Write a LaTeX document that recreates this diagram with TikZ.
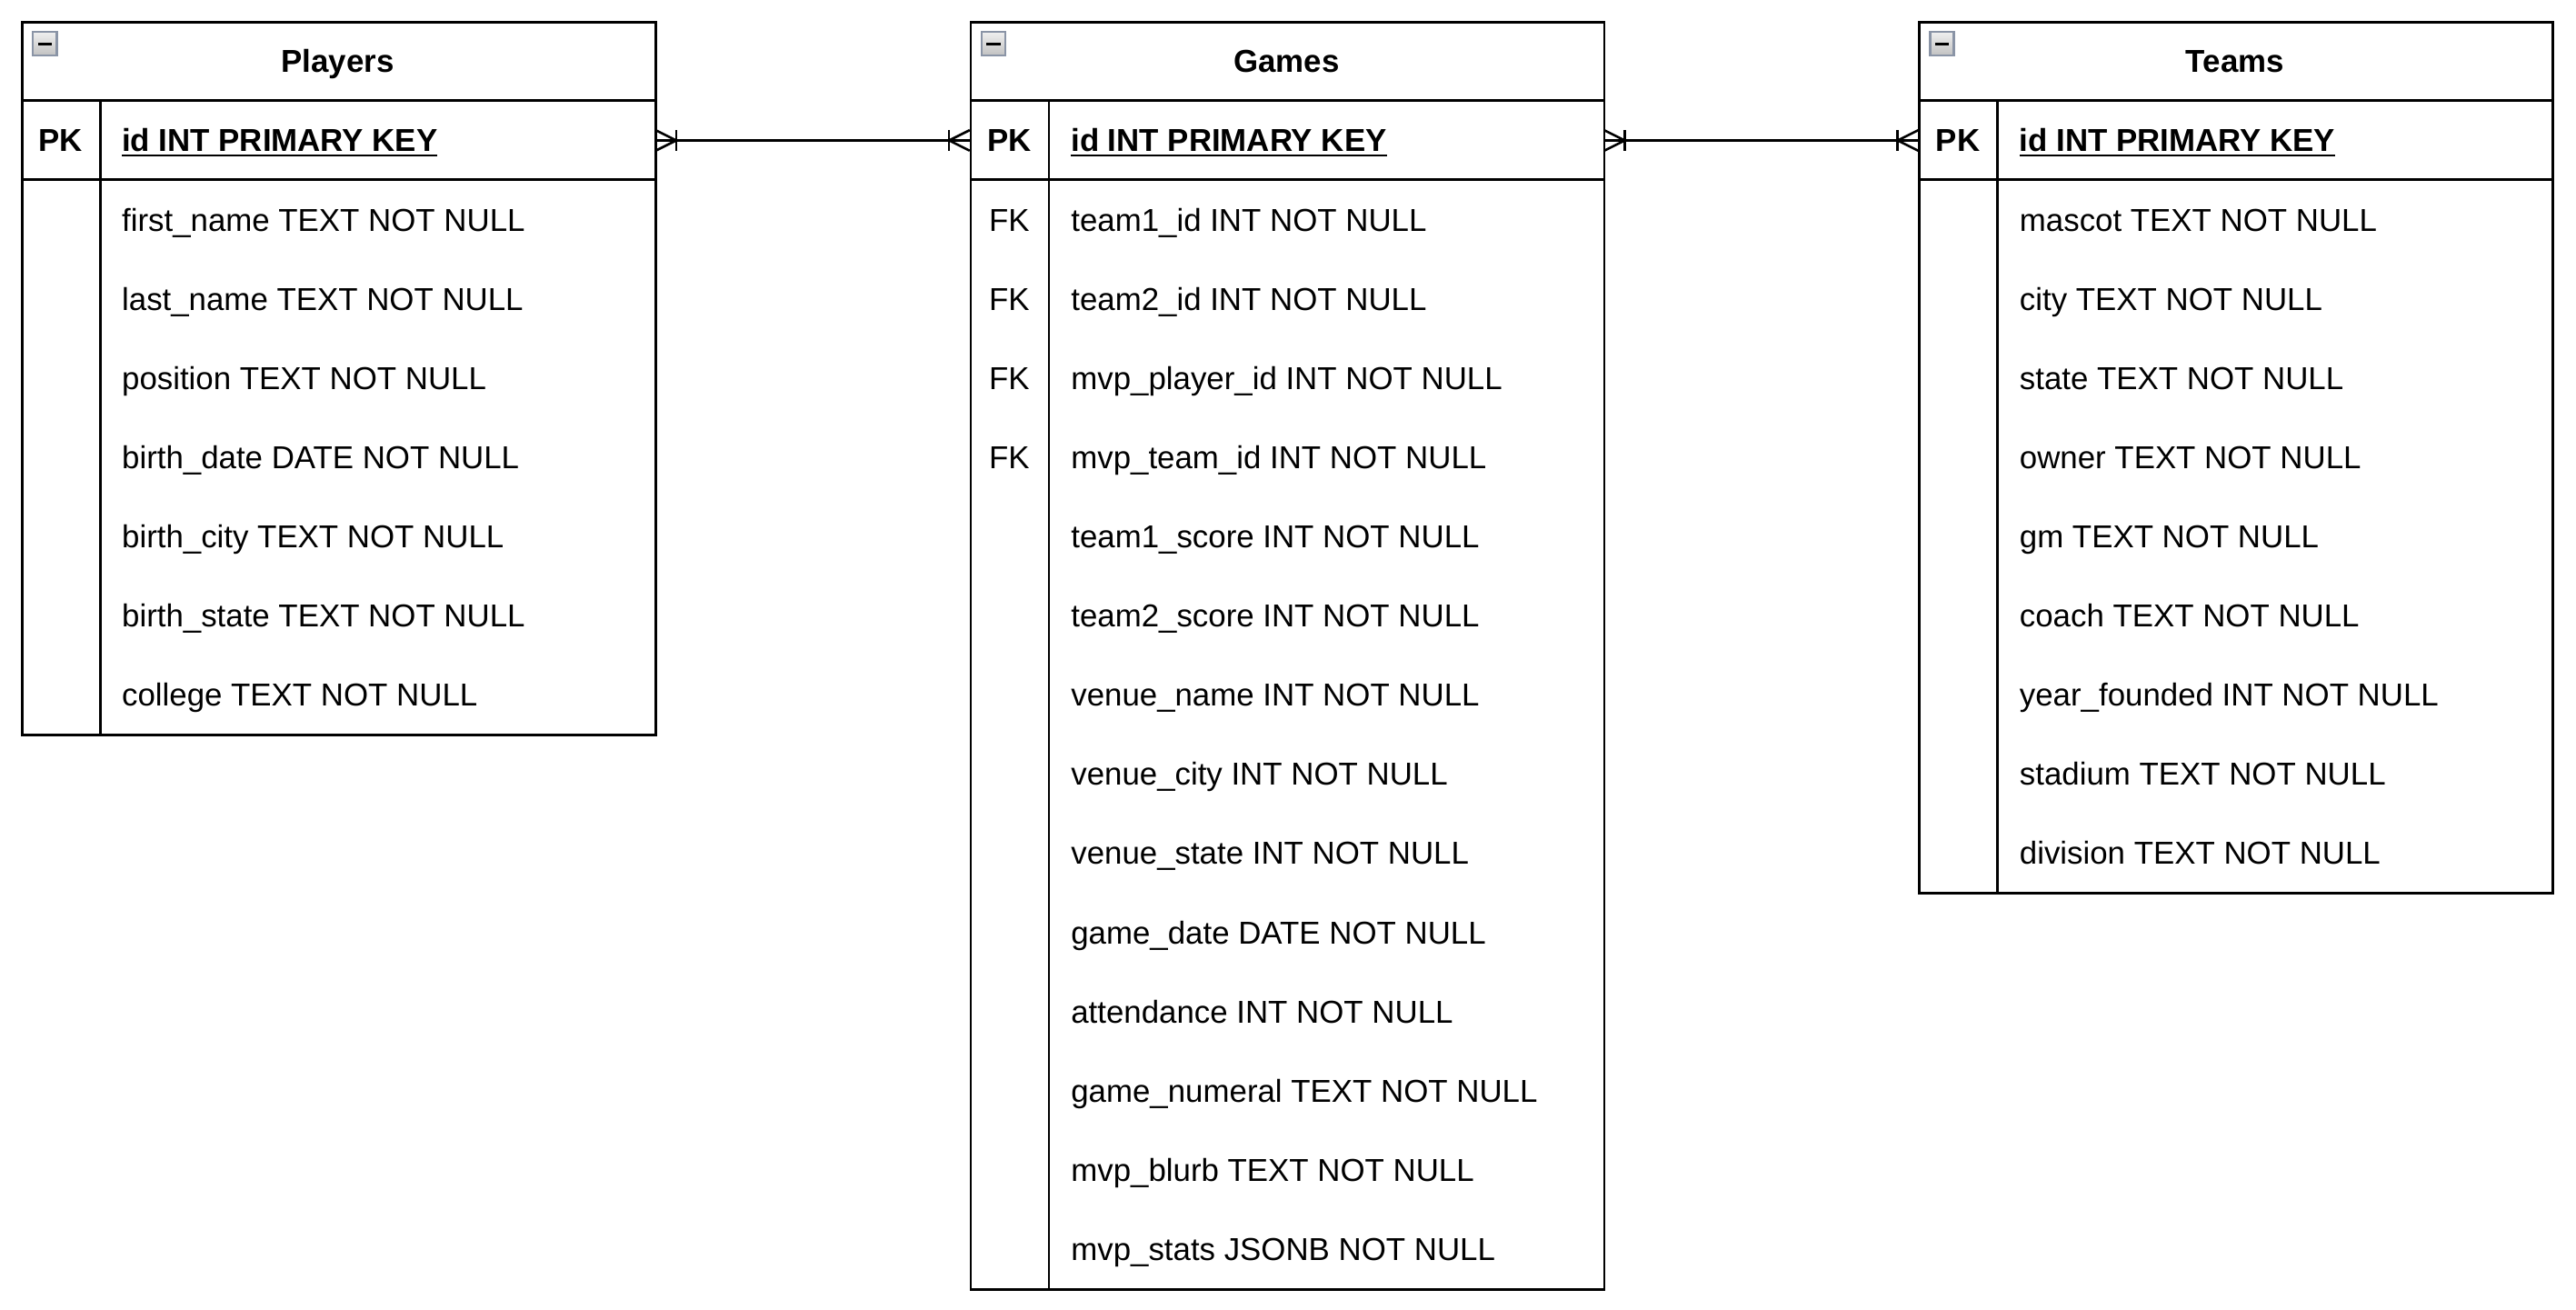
\documentclass[tikz,border=0pt]{standalone}
\usepackage{fontspec}
\setmainfont{Liberation Sans}
\definecolor{iconborder}{HTML}{8A94A6}
\newcommand\myul[1]{\setbox0\hbox{#1}\rlap{\rule[-1.9pt]{\wd0}{0.9pt}}\box0}
\tikzset{
  tblbox/.style={draw=black, line width=0.9pt, fill=white, rectangle, inner sep=0pt, minimum width=240pt, anchor=north west},
  pkrow/.style={rectangle, inner sep=0pt, minimum width=240pt, minimum height=30pt, anchor=north west},
  sepline/.style={line width=0.9pt},
  fld/.style={anchor=base west, inner sep=0pt, font=\fontsize{12}{14}\selectfont},
  keyb/.style={anchor=base, inner sep=0pt, font=\fontsize{12}{14}\selectfont\bfseries},
  keyn/.style={anchor=base, inner sep=0pt, font=\fontsize{12}{14}\selectfont},
  ttl/.style={anchor=base, inner sep=0pt, font=\fontsize{12}{14}\selectfont\bfseries},
  iconbox/.style={draw=iconborder, line width=0.8pt, top color=white!94!black, bottom color=white!76!black},
  conn/.style={line width=0.9pt},
  crowfoot/.pic={\draw[conn] (0,-3.9) -- (7.8,0) -- (0,3.9); \draw[conn] (7.8,-3.9) -- (7.8,3.9);}
}
\begin{document}
\begin{tikzpicture}[x=1pt,y=-1pt]
\fill[white] (0,0) rectangle (976,496);
\useasboundingbox (0,0) rectangle (976,496);

% ---------------- Players ----------------
\node[tblbox, minimum height=270pt] (players) at (8,8) {};
\node[pkrow] (playersPK) at (8,38) {};
\draw[sepline] (8,38) -- (248,38);
\draw[sepline] (8,68) -- (248,68);
\draw[sepline] (38,38) -- (38,278);
\draw[iconbox] (12.5,12) rectangle (21.5,21);
\fill[black] (14.3,16.1) rectangle (19.7,17.3);
\node[ttl] (playersT) at (128,27.5) {Players};
\node[keyb] (playersK) at (23,57.5) {PK};
\node[fld] (playersId) at (46,57.5) {\bfseries\myul{id INT PRIMARY KEY}};
\foreach [count=\i] \t in {first\_name TEXT NOT NULL, last\_name TEXT NOT NULL, position TEXT NOT NULL, birth\_date DATE NOT NULL, birth\_city TEXT NOT NULL, birth\_state TEXT NOT NULL, college TEXT NOT NULL}
  \node[fld] (playersF\i) at (46,57.5+30*\i) {\t};

% ---------------- Games ----------------
\node[tblbox, minimum height=480pt] (games) at (367.4,8) {};
\node[pkrow] (gamesPK) at (367.4,38) {};
\draw[sepline] (367.4,38) -- (607.4,38);
\draw[sepline] (367.4,68) -- (607.4,68);
\draw[sepline] (397.4,38) -- (397.4,488);
\draw[iconbox] (371.9,12) rectangle (380.9,21);
\fill[black] (373.7,16.1) rectangle (379.1,17.3);
\node[ttl] (gamesT) at (487.4,27.5) {Games};
\node[keyb] (gamesK) at (382.4,57.5) {PK};
\node[fld] (gamesId) at (405.6,57.5) {\bfseries\myul{id INT PRIMARY KEY}};
\foreach \i in {1,...,4}
  \node[keyn] (gamesK\i) at (382.4,57.5+30*\i) {FK};
\foreach [count=\i] \t in {team1\_id INT NOT NULL, team2\_id INT NOT NULL, mvp\_player\_id INT NOT NULL, mvp\_team\_id INT NOT NULL, team1\_score INT NOT NULL, team2\_score INT NOT NULL, venue\_name INT NOT NULL, venue\_city INT NOT NULL, venue\_state INT NOT NULL, game\_date DATE NOT NULL, attendance INT NOT NULL, game\_numeral TEXT NOT NULL, mvp\_blurb TEXT NOT NULL, mvp\_stats JSONB NOT NULL}
  \node[fld] (gamesF\i) at (405.6,57.5+30*\i) {\t};

% ---------------- Teams ----------------
\node[tblbox, minimum height=330pt] (teams) at (726.8,8) {};
\node[pkrow] (teamsPK) at (726.8,38) {};
\draw[sepline] (726.8,38) -- (966.8,38);
\draw[sepline] (726.8,68) -- (966.8,68);
\draw[sepline] (756.8,38) -- (756.8,338);
\draw[iconbox] (731.3,12) rectangle (740.3,21);
\fill[black] (733.1,16.1) rectangle (738.5,17.3);
\node[ttl] (teamsT) at (846.8,27.5) {Teams};
\node[keyb] (teamsK) at (741.8,57.5) {PK};
\node[fld] (teamsId) at (765,57.5) {\bfseries\myul{id INT PRIMARY KEY}};
\foreach [count=\i] \t in {mascot TEXT NOT NULL, city TEXT NOT NULL, state TEXT NOT NULL, owner TEXT NOT NULL, gm TEXT NOT NULL, coach TEXT NOT NULL, year\_founded INT NOT NULL, stadium TEXT NOT NULL, division TEXT NOT NULL}
  \node[fld] (teamsF\i) at (765,57.5+30*\i) {\t};

% ---------------- Connectors ----------------
\draw[conn] (playersPK.east) -- (gamesPK.west);
\path (playersPK.east) pic {crowfoot};
\path (gamesPK.west) pic[rotate=180] {crowfoot};
\draw[conn] (gamesPK.east) -- (teamsPK.west);
\path (gamesPK.east) pic {crowfoot};
\path (teamsPK.west) pic[rotate=180] {crowfoot};
\end{tikzpicture}
\end{document}
